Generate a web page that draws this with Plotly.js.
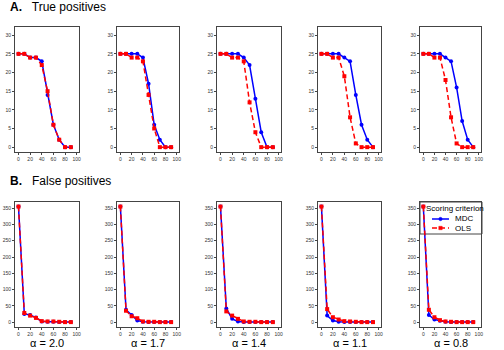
<!DOCTYPE html>
<html>
<head>
<meta charset="utf-8">
<script src="https://cdn.plot.ly/plotly-3.0.1.min.js"></script>
<style>
  html, body { margin: 0; padding: 0; background: #fff; }
  #chart { width: 504px; height: 350px; }
</style>
</head>
<body>
<div id="chart"></div>
<script>
// Threshold levels (x) shared by all panels
const xLevels = [0, 10, 20, 30, 40, 50, 60, 70, 80, 90];
const alphaLabels = ['2.0', '1.7', '1.4', '1.1', '0.8'];
const seriesNames = ['MDC', 'OLS'];

// A. True positives, one row per alpha
const tpMDC = [
  [25, 25, 24, 24, 23, 14, 6, 2, 0, 0],
  [25, 25, 25, 25, 24, 17, 6, 2, 0, 0],
  [25, 25, 25, 25, 24, 22, 13, 4, 0, 0],
  [25, 25, 25, 25, 24, 23, 14, 6, 2, 0],
  [25, 25, 25, 25, 24, 23, 16, 7, 2, 0],
];
const tpOLS = [
  [25, 25, 24, 24, 22, 15, 6, 2, 0, 0],
  [25, 25, 24, 24, 23, 14, 5, 0, 0, 0],
  [25, 25, 24, 24, 23, 12, 4, 0, 0, 0],
  [25, 25, 24, 24, 19, 8, 1, 0, 0, 0],
  [25, 25, 24, 24, 18, 8, 1, 0, 0, 0],
];

// B. False positives
const fpMDC = [
  [355, 25, 22, 14, 2, 1, 1, 0, 0, 0],
  [355, 38, 22, 5, 1, 0, 0, 0, 0, 0],
  [355, 42, 10, 2, 0, 0, 0, 0, 0, 0],
  [355, 20, 5, 1, 0, 0, 0, 0, 0, 0],
  [355, 22, 8, 4, 1, 0, 0, 0, 0, 0],
];
const fpOLS = [
  [355, 28, 20, 13, 3, 2, 2, 1, 0, 0],
  [355, 35, 18, 12, 2, 1, 1, 0, 0, 0],
  [355, 33, 20, 10, 2, 1, 1, 0, 0, 0],
  [355, 40, 15, 8, 3, 2, 1, 0, 0, 0],
  [355, 38, 15, 6, 2, 1, 0, 0, 0, 0],
];

const W = 504, H = 350;
const colLeft = [15, 117, 217, 318, 420];
const colRight = [79, 179, 281, 381, 481];
const rowA = [27, 152];   // top, bottom in px
const rowB = [202, 327];

const BLUE = '#0000ff';
const RED = '#ff0000';
const FONT = 'Liberation Sans, Arial, sans-serif';
const OLS_DASH = '5px,3px';

const px = v => v / W;
const py = v => 1 - v / H;

const traces = [];
const layout = {
  width: W, height: H,
  margin: { l: 0, r: 0, t: 0, b: 0 },
  paper_bgcolor: '#fff',
  plot_bgcolor: '#fff',
  font: { family: FONT, color: '#000' },
  showlegend: false,
  annotations: [],
  shapes: [],
};

function axisBase() {
  return {
    showgrid: false, zeroline: false,
    showline: true, mirror: true, linecolor: '#444', linewidth: 1,
    ticks: 'outside', ticklen: 2, tickwidth: 1, tickcolor: '#444',
    tickfont: { size: 5, family: FONT, color: '#333' },
    fixedrange: true,
  };
}

for (let i = 0; i < 10; i++) {
  const col = i % 5;
  const top = i < 5;
  const n = i + 1;
  const sfx = n === 1 ? '' : String(n);
  const row = top ? rowA : rowB;

  layout['xaxis' + sfx] = Object.assign(axisBase(), {
    domain: [px(colLeft[col]), px(colRight[col])],
    anchor: 'y' + sfx,
    range: [-6, 104], tickvals: [0, 20, 40, 60, 80, 100],
  });
  layout['yaxis' + sfx] = Object.assign(axisBase(), {
    domain: [py(row[1]), py(row[0])],
    anchor: 'x' + sfx,
    range: top ? [-1.3, 32.2] : [-15, 369],
    tickvals: top ? [0, 5, 10, 15, 20, 25, 30] : [0, 50, 100, 150, 200, 250, 300, 350],
  });

  const mdc = top ? tpMDC[col] : fpMDC[col];
  const ols = top ? tpOLS[col] : fpOLS[col];

  traces.push({
    x: xLevels, y: mdc, xaxis: 'x' + sfx, yaxis: 'y' + sfx,
    type: 'scatter', mode: 'lines+markers', name: seriesNames[0],
    line: { color: BLUE, width: 1.5 },
    marker: { color: BLUE, size: 4, symbol: 'circle' },
    hoverinfo: 'skip',
  });
  traces.push({
    x: xLevels, y: ols, xaxis: 'x' + sfx, yaxis: 'y' + sfx,
    type: 'scatter', mode: 'lines+markers', name: seriesNames[1],
    line: { color: RED, width: 1.5, dash: OLS_DASH },
    marker: { color: RED, size: 4, symbol: 'square' },
    hoverinfo: 'skip',
  });

  if (!top) {
    layout.annotations.push({
      xref: 'paper', yref: 'paper',
      x: px((colLeft[col] + colRight[col]) / 2), y: py(342.5),
      text: 'α = ' + alphaLabels[col], showarrow: false,
      font: { size: 11, family: FONT, color: '#000' },
      xanchor: 'center', yanchor: 'middle', borderpad: 0,
    });
  }
}

// Row headings
layout.annotations.push(
  { xref: 'paper', yref: 'paper', x: px(8), y: py(7), showarrow: false,
    xanchor: 'left', yanchor: 'middle',
    text: '<b>A.</b>   True positives', font: { size: 12, family: FONT, color: '#000' } },
  { xref: 'paper', yref: 'paper', x: px(8), y: py(181), showarrow: false,
    xanchor: 'left', yanchor: 'middle',
    text: '<b>B.</b>   False positives', font: { size: 12, family: FONT, color: '#000' } }
);

// Compact legend in the last bottom panel (Plotly's own legend rows are too tall here)
const leg = { x0: 420, x1: 482, y0: 202, y1: 234 };
layout.shapes.push({
  type: 'rect', xref: 'paper', yref: 'paper',
  x0: px(leg.x0), x1: px(leg.x1), y0: py(leg.y1), y1: py(leg.y0),
  line: { color: '#444', width: 1 }, fillcolor: '#fff', layer: 'below',
});
layout.annotations.push({
  xref: 'paper', yref: 'paper', x: px(425), y: py(208.5), showarrow: false,
  xanchor: 'left', yanchor: 'middle', borderpad: 0,
  text: 'Scoring criterion', font: { size: 8, family: FONT, color: '#000' },
});
[[BLUE, 'solid', 'circle', 219], [RED, OLS_DASH, 'square', 228]].forEach(([c, dash, sym, yy], k) => {
  layout.shapes.push({
    type: 'line', xref: 'paper', yref: 'paper',
    x0: px(432), x1: px(449), y0: py(yy), y1: py(yy),
    line: { color: c, width: 1.5, dash: dash }, layer: 'above',
  });
  layout.shapes.push({
    type: sym === 'circle' ? 'circle' : 'rect', xref: 'paper', yref: 'paper',
    x0: px(438.8), x1: px(442.2), y0: py(yy + 1.7), y1: py(yy - 1.7),
    line: { color: c, width: 0.5 }, fillcolor: c, layer: 'above',
  });
  layout.annotations.push({
    xref: 'paper', yref: 'paper', x: px(454), y: py(yy), showarrow: false,
    xanchor: 'left', yanchor: 'middle', borderpad: 0,
    text: seriesNames[k], font: { size: 8, family: FONT, color: '#000' },
  });
});

Plotly.newPlot('chart', traces, layout, { displayModeBar: false, staticPlot: true });
</script>
</body>
</html>
